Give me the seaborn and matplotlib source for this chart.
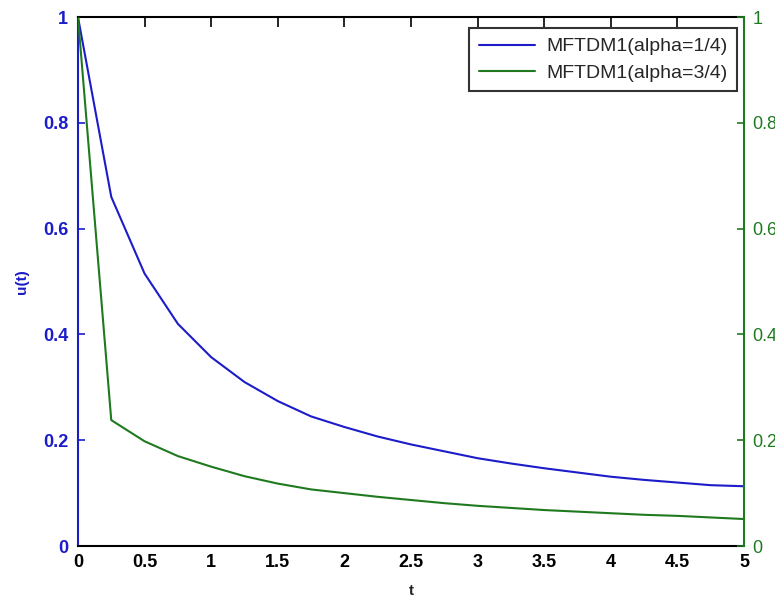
import numpy as np
import pandas as pd
import seaborn as sns
import matplotlib.pyplot as plt
from matplotlib.lines import Line2D

#%% Data

t = [0, 0.25, 0.5, 0.75, 1.0, 1.25, 1.5, 1.75, 2.0, 2.25, 2.5, 2.75, 3.0,
     3.25, 3.5, 3.75, 4.0, 4.25, 4.5, 4.75, 5.0]
u_quarter = [1.0, 0.66, 0.515, 0.42, 0.357, 0.31, 0.274, 0.245, 0.225, 0.207,
             0.192, 0.179, 0.166, 0.156, 0.147, 0.139, 0.131, 0.125, 0.12,
             0.115, 0.113]
u_three_quarter = [1.0, 0.238, 0.198, 0.17, 0.15, 0.132, 0.118, 0.107, 0.1,
                   0.093, 0.087, 0.081, 0.076, 0.072, 0.068, 0.065, 0.062,
                   0.059, 0.057, 0.054, 0.051]
labels = ['MFTDM1(alpha=1/4)', 'MFTDM1(alpha=3/4)']
x_ticks = [0, 0.5, 1, 1.5, 2, 2.5, 3, 3.5, 4, 4.5, 5]
x_ticklabels = ['0', '0.5', '1', '1.5', '2', '2.5', '3', '3.5', '4', '4.5', '5']
y_ticks = [0, 0.2, 0.4, 0.6, 0.8, 1]
y_ticklabels = ['0', '0.2', '0.4', '0.6', '0.8', '1']

df = pd.DataFrame({'t': t, 'u1': u_quarter, 'u2': u_three_quarter})

blue = '#1c1cc8'
green = '#1f7a1f'

#%% Plot

sns.set_style('white')
plt.rcParams['font.family'] = ['Liberation Sans', 'DejaVu Sans']

fig = plt.figure(figsize=(7.75, 5.97), dpi=100)
ax = fig.add_axes([0.1006, 0.0854, 0.8594, 0.8861])
ax2 = ax.twinx()

sns.lineplot(data=df, x='t', y='u1', ax=ax, color=blue, linewidth=1.5, legend=False)
sns.lineplot(data=df, x='t', y='u2', ax=ax2, color=green, linewidth=1.5, legend=False)

for a in (ax, ax2):
    a.set_xlim(0, 5)
    a.set_ylim(0, 1)
    a.set_yticks(y_ticks)
    a.set_yticklabels(y_ticklabels)
ax.set_xticks(x_ticks)
ax.set_xticklabels(x_ticklabels, fontweight='bold')

ax.tick_params(axis='x', direction='in', top=True, length=7, width=1.2, labelsize=13, colors='black', pad=6)
ax.tick_params(axis='y', direction='in', length=5, width=1.2, labelsize=13, colors=blue, pad=7)
ax2.tick_params(axis='y', direction='in', length=5, width=1.2, labelsize=13, colors=green, pad=6)
for lab in ax.get_yticklabels():
    lab.set_fontweight('bold')

for name in ('top', 'bottom'):
    ax.spines[name].set_color('black')
    ax.spines[name].set_linewidth(1.5)
    ax2.spines[name].set_visible(False)
ax.spines['left'].set_color(blue)
ax.spines['left'].set_linewidth(1.5)
ax.spines['right'].set_visible(False)
ax2.spines['left'].set_visible(False)
ax2.spines['right'].set_color(green)
ax2.spines['right'].set_linewidth(1.5)

# the right tick labels run past the figure edge, as in the reference
ax.set_xlabel('t', fontsize=11, fontweight='bold', labelpad=9)
ax.set_ylabel('u(t)', fontsize=11, fontweight='bold', color=blue, labelpad=10)
ax2.set_ylabel('')

handles = [Line2D([], [], color=blue, linewidth=1.5), Line2D([], [], color=green, linewidth=1.5)]
leg = ax2.legend(handles, labels, loc='upper right', fontsize=14, frameon=True,
                 fancybox=False, edgecolor='black', handlelength=2.9,
                 bbox_to_anchor=(737 / 775, 1 - 28 / 597), bbox_transform=fig.transFigure,
                 borderaxespad=0, borderpad=0.5, labelspacing=0.45, handletextpad=0.55)
leg.get_frame().set_linewidth(1.5)

plt.savefig('out.png', dpi=100)
